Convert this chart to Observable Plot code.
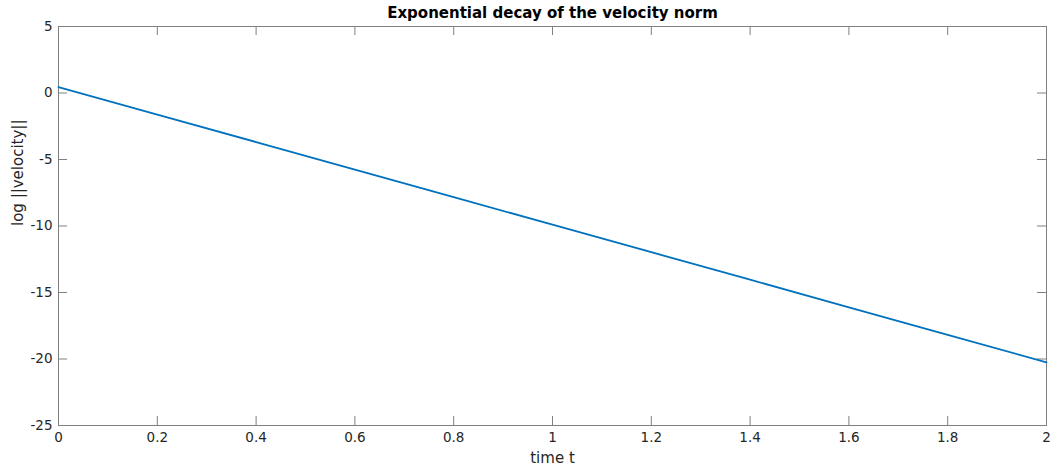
<!DOCTYPE html>
<html>
<head>
<meta charset="utf-8">
<script src="https://cdn.jsdelivr.net/npm/d3@7"></script>
<script src="https://cdn.jsdelivr.net/npm/@observablehq/plot@0.6"></script>
<style>
  html, body { margin: 0; padding: 0; background: #fff; }
  #chart svg { display: block; }
</style>
</head>
<body>
<div id="chart"></div>
<script>
// Values
const time = [0, 0.2, 0.4, 0.6, 0.8, 1.0, 1.2, 1.4, 1.6, 1.8, 2.0];
const logVelocity = [0.45, -1.62, -3.69, -5.76, -7.83, -9.9, -11.97, -14.04, -16.11, -18.18, -20.25];
const xTicks = [0, 0.2, 0.4, 0.6, 0.8, 1, 1.2, 1.4, 1.6, 1.8, 2];
const yTicks = [5, 0, -5, -10, -15, -20, -25];
const title = "Exponential decay of the velocity norm";
const xLabel = "time t";
const yLabel = "log ||velocity||";

const data = time.map((t, i) => ({t, v: logVelocity[i]}));

const W = 1056, H = 468;
const mL = 58, mR = 10, mT = 26, mB = 43;
const innerH = H - mT - mB;
const innerW = W - mL - mR;
const tickLen = 9;
const axisColor = "#808080";
const textColor = "#262626";

const chart = Plot.plot({
  width: W,
  height: H,
  marginLeft: mL,
  marginRight: mR,
  marginTop: mT,
  marginBottom: mB,
  style: {fontFamily: "DejaVu Sans", fontSize: "13.5px", color: textColor, background: "#fff"},
  x: {domain: [0, 2]},
  y: {domain: [-25, 5]},
  marks: [
    Plot.frame({stroke: axisColor}),
    // inward ticks on all four sides
    Plot.tickX(xTicks, {x: d => d, stroke: axisColor, insetTop: innerH - tickLen}),
    Plot.tickX(xTicks, {x: d => d, stroke: axisColor, insetBottom: innerH - tickLen}),
    Plot.tickY(yTicks, {y: d => d, stroke: axisColor, insetRight: innerW - tickLen}),
    Plot.tickY(yTicks, {y: d => d, stroke: axisColor, insetLeft: innerW - tickLen}),
    Plot.axisX(xTicks, {
      tickSize: 0, tickPadding: 7, fontSize: 13.5, fill: textColor,
      tickFormat: d => String(d), label: null
    }),
    Plot.axisY(yTicks, {
      tickSize: 0, tickPadding: 6, fontSize: 13.5, fill: textColor,
      tickFormat: d => (d < 0 ? "-" + Math.abs(d) : String(d)), label: null
    }),
    Plot.line(data, {x: "t", y: "v", stroke: "#0072BD", strokeWidth: 1.8}),
    Plot.text([xLabel], {
      text: d => d, frameAnchor: "bottom", dy: 33, lineAnchor: "middle",
      fontSize: 15, fill: textColor
    }),
    Plot.text([yLabel], {
      text: d => d, frameAnchor: "left", dx: -40.5, rotate: -90, lineAnchor: "middle",
      fontSize: 15, fill: textColor
    }),
    Plot.text([title], {
      text: d => d, frameAnchor: "top", dy: -13.5, lineAnchor: "middle",
      fontWeight: "bold", fontSize: 15, fill: "#000"
    })
  ]
});
document.getElementById("chart").appendChild(chart);
</script>
</body>
</html>
